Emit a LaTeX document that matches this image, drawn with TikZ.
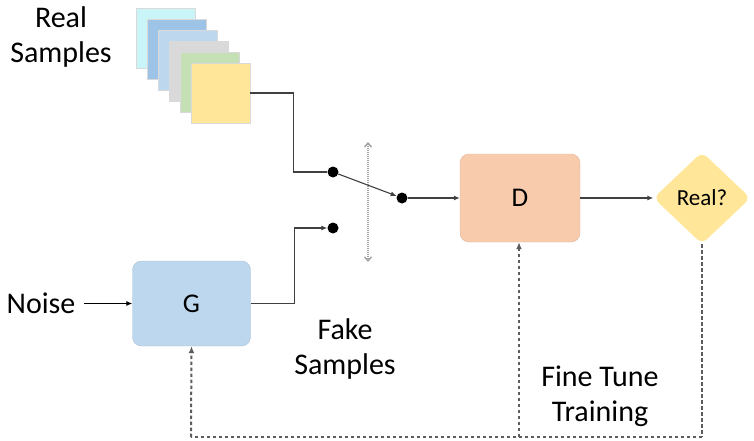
\documentclass[tikz,border=0pt]{standalone}
\usepackage{fontspec}
\setmainfont{Carlito}
\usetikzlibrary{shapes.geometric,arrows.meta}
\definecolor{cardcyan}{HTML}{C9F5F9}
\definecolor{cardblue}{HTML}{9DC3E6}
\definecolor{cardlblue}{HTML}{BDD7EE}
\definecolor{cardgrey}{HTML}{D9D9D9}
\definecolor{cardgreen}{HTML}{C5E0B4}
\definecolor{cardyellow}{HTML}{FFE699}
\definecolor{gfill}{HTML}{BDD7EE}
\definecolor{dfill}{HTML}{F8CBAD}
\definecolor{wire}{HTML}{404040}
\begin{document}
\begin{tikzpicture}[x=1pt,y=-1pt,
  card/.style={draw=white!85!black, line width=0.6pt, minimum width=59pt, minimum height=60pt, inner sep=0pt},
  block/.style={rounded corners=9pt, minimum width=118pt, minimum height=85pt, inner sep=0pt, font=\fontsize{27}{30}\selectfont},
  lbl/.style={font=\fontsize{30}{35}\selectfont, align=center, inner sep=0pt},
  wireline/.style={draw=wire, line width=1.1pt},
  tip/.style={-{Latex[length=6pt,width=5pt]}},
  fbtip/.style={-{Latex[length=7pt,width=6pt]}},
  dot/.style={circle, fill=black, inner sep=0pt, minimum size=11pt},
  fb/.style={draw=wire!85, line width=2pt, dash pattern=on 3.5pt off 2.5pt}
]
\useasboundingbox (0,0) rectangle (754,441);

% stack of real sample cards
\node[card, fill=cardcyan]   (c1) at (165.5,38)  {};
\node[card, fill=cardblue]   (c2) at (176.5,49)  {};
\node[card, fill=cardlblue]  (c3) at (187.5,60)  {};
\node[card, fill=cardgrey]   (c4) at (198.5,71)  {};
\node[card, fill=cardgreen]  (c5) at (209.5,82)  {};
\node[card, fill=cardyellow] (c6) at (220.5,93)  {};

% text labels
\node[lbl] (real)  at (61,37)   {Real\\Samples};
\node[lbl] (noise) at (41,303.5) {Noise};
\node[lbl] (fake)  at (345,349) {Fake\\Samples};
\node[lbl] (fine)  at (600,396) {Fine Tune\\Training};

% generator and discriminator
\node[block, fill=gfill, draw=gfill!90!black, line width=0.4pt] (G) at (191.5,303.5) {G};
\node[block, fill=dfill, draw=dfill!90!black, line width=0.4pt, minimum width=120pt, minimum height=88pt] (D) at (520,198) {D};
\node[diamond, aspect=1.05, minimum width=97pt, minimum height=92pt, inner sep=0pt,
      rounded corners=7pt, fill=cardyellow, font=\fontsize{23}{26}\selectfont] (Q) at (702,198) {Real?};

% switch contacts
\node[dot] (dA) at (333,172) {};
\node[dot] (dB) at (333,228) {};
\node[dot] (dC) at (402,198) {};

% switch throw indicator
\coordinate (sT) at (368,142);
\coordinate (sB) at (368,262);
\draw[draw=gray!75, line width=1.4pt, dash pattern=on 1pt off 1pt,
      {Straight Barb[length=4pt,width=7pt]}-{Straight Barb[length=4pt,width=7pt]}] (sT) -- (sB);

% wiring
\draw[wireline] (c6.east) -- ++(43,0) |- (dA.west);
\draw[wireline, tip] (G.east) -- ++(44,0) |- (dB.west);
\draw[wireline, tip] (dA) -- (dC);
\draw[wireline, tip] (dC) -- (D.west);
\draw[wireline, tip] (D.east) -- (Q.west);
\draw[draw=black, line width=1pt, tip] ([xshift=8pt]noise.east) -- (G.west);

% feedback paths
\coordinate (fR) at (702,437);
\coordinate (fM) at (519,437);
\coordinate (fL) at (191,437);
\draw[fb] (Q.south) -- (fR);
\draw[fb] (fR) -- (fL);
\draw[fb, fbtip] (fL) -- (G.south);
\draw[fb, fbtip] (fM) -- (fM |- D.south);
\end{tikzpicture}
\end{document}
